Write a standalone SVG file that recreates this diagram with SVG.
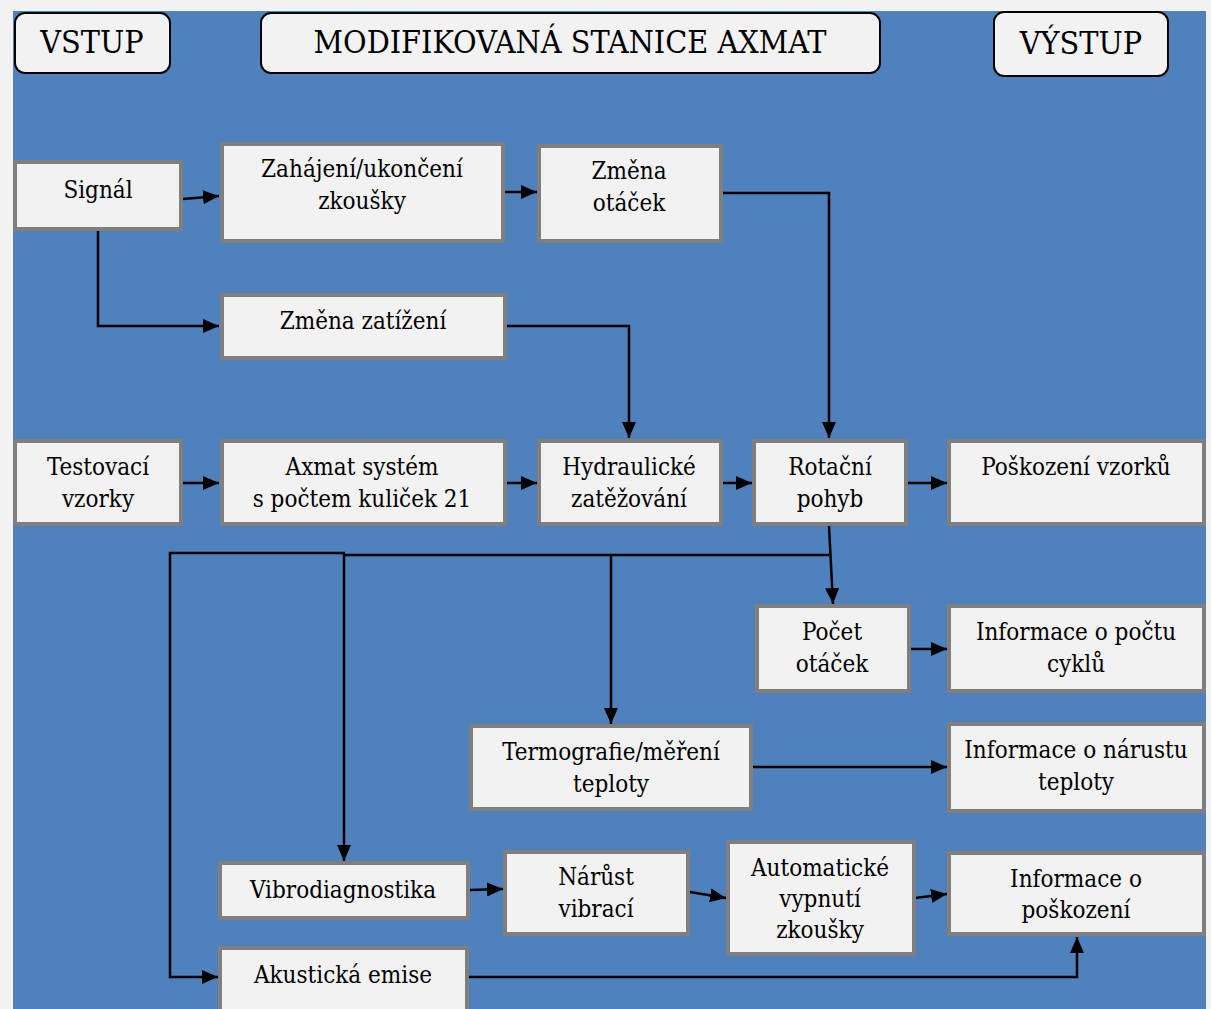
<svg xmlns="http://www.w3.org/2000/svg" width="1211" height="1009" viewBox="0 0 1211 1009">
<style>
.hdr{fill:#f2f2f2;stroke:#000;stroke-width:2}
.box{fill:#f2f2f2;stroke:#7f7f7f;stroke-width:4}
text{fill:#000;text-anchor:middle;font-family:'DejaVu Serif Condensed','DejaVu Serif',serif;font-stretch:condensed}
.t{font-size:24px}
.h{font-size:32px}
.c{fill:none;stroke:#000;stroke-width:2.5}
</style>
<defs>
<marker id="arr" markerUnits="userSpaceOnUse" markerWidth="16" markerHeight="14" refX="16" refY="7" orient="auto" viewBox="0 0 16 14">
<path d="M0,0 L16,7 L0,14 z" fill="#000"/>
</marker>
</defs>
<rect x="0" y="0" width="1211" height="1009" fill="#f2f2f2"/>
<rect x="13" y="11" width="1193" height="998" fill="#4f81bd"/>

<g id="vstup"><rect class="hdr" x="15" y="13" width="155" height="60" rx="10"/><text class="h" x="92" y="53">VSTUP</text></g>
<g id="stanice"><rect class="hdr" x="261" y="13" width="619" height="60" rx="10"/><text class="h" x="570" y="53">MODIFIKOVANÁ STANICE AXMAT</text></g>
<g id="vystup"><rect class="hdr" x="994" y="12" width="174" height="64" rx="10"/><text class="h" x="1081" y="54">VÝSTUP</text></g>

<g id="connectors">
<path class="c" d="M183,199 L219,196" marker-end="url(#arr)"/>
<path class="c" d="M505,192 H537" marker-end="url(#arr)"/>
<path class="c" d="M723,193 H829 V438" marker-end="url(#arr)"/>
<path class="c" d="M98,230 V326 H219" marker-end="url(#arr)"/>
<path class="c" d="M507,326 H629 V438" marker-end="url(#arr)"/>
<path class="c" d="M183,483 H219" marker-end="url(#arr)"/>
<path class="c" d="M507,483 H537" marker-end="url(#arr)"/>
<path class="c" d="M723,483 H752" marker-end="url(#arr)"/>
<path class="c" d="M908,483 H947" marker-end="url(#arr)"/>
<path class="c" d="M829,526 L833,604" marker-end="url(#arr)"/>
<path class="c" d="M829,555 H344 V861" marker-end="url(#arr)"/>
<path class="c" d="M345,553 H170 V977 H218" marker-end="url(#arr)"/>
<path class="c" d="M611,555 V724" marker-end="url(#arr)"/>
<path class="c" d="M911,649 H947" marker-end="url(#arr)"/>
<path class="c" d="M753,767 H947" marker-end="url(#arr)"/>
<path class="c" d="M470,890 L503,889" marker-end="url(#arr)"/>
<path class="c" d="M690,892 L726,898" marker-end="url(#arr)"/>
<path class="c" d="M915,898 L947,894" marker-end="url(#arr)"/>
<path class="c" d="M469,977 H1077 V937" marker-end="url(#arr)"/>
</g>

<g id="signal"><rect class="box" x="15" y="162" width="166" height="67"/><text class="t" x="98" y="198">Signál</text></g>
<g id="zahajeni"><rect class="box" x="222" y="144" width="281" height="97"/><text class="t" x="362" y="177">Zahájení/ukončení</text><text class="t" x="362" y="209">zkoušky</text></g>
<g id="zmena-otacek"><rect class="box" x="539" y="146" width="182" height="95"/><text class="t" x="629" y="179">Změna</text><text class="t" x="629" y="211">otáček</text></g>
<g id="zmena-zatizeni"><rect class="box" x="222" y="295" width="283" height="63"/><text class="t" x="363" y="329">Změna zatížení</text></g>
<g id="testovaci"><rect class="box" x="15" y="441" width="166" height="83"/><text class="t" x="98" y="475">Testovací</text><text class="t" x="98" y="507">vzorky</text></g>
<g id="axmat"><rect class="box" x="222" y="441" width="283" height="83"/><text class="t" x="362" y="475">Axmat systém</text><text class="t" x="362" y="507">s počtem kuliček 21</text></g>
<g id="hydraulicke"><rect class="box" x="539" y="441" width="182" height="83"/><text class="t" x="629" y="475">Hydraulické</text><text class="t" x="629" y="507">zatěžování</text></g>
<g id="rotacni"><rect class="box" x="754" y="441" width="152" height="83"/><text class="t" x="830" y="475">Rotační</text><text class="t" x="830" y="507">pohyb</text></g>
<g id="poskozeni-vzorku"><rect class="box" x="949" y="441" width="255" height="83"/><text class="t" x="1076" y="475">Poškození vzorků</text></g>
<g id="pocet"><rect class="box" x="757" y="606" width="152" height="85"/><text class="t" x="832" y="640">Počet</text><text class="t" x="832" y="672">otáček</text></g>
<g id="info-cyklu"><rect class="box" x="949" y="606" width="255" height="85"/><text class="t" x="1076" y="640">Informace o počtu</text><text class="t" x="1076" y="672">cyklů</text></g>
<g id="termografie"><rect class="box" x="471" y="726" width="280" height="83"/><text class="t" x="611" y="760">Termografie/měření</text><text class="t" x="611" y="792">teploty</text></g>
<g id="info-teploty"><rect class="box" x="949" y="724" width="255" height="87"/><text class="t" x="1076" y="758">Informace o nárustu</text><text class="t" x="1076" y="790">teploty</text></g>
<g id="vibro"><rect class="box" x="220" y="863" width="248" height="55"/><text class="t" x="343" y="898">Vibrodiagnostika</text></g>
<g id="narust"><rect class="box" x="505" y="852" width="183" height="82"/><text class="t" x="596" y="885">Nárůst</text><text class="t" x="596" y="917">vibrací</text></g>
<g id="automaticke"><rect class="box" x="728" y="842" width="186" height="112"/><text class="t" x="820" y="876">Automatické</text><text class="t" x="820" y="907">vypnutí</text><text class="t" x="820" y="938">zkoušky</text></g>
<g id="info-poskozeni"><rect class="box" x="949" y="853" width="255" height="81"/><text class="t" x="1076" y="887">Informace o</text><text class="t" x="1076" y="918">poškození</text></g>
<g id="akusticka"><rect class="box" x="220" y="948" width="247" height="70"/><text class="t" x="343" y="983">Akustická emise</text></g>
</svg>
